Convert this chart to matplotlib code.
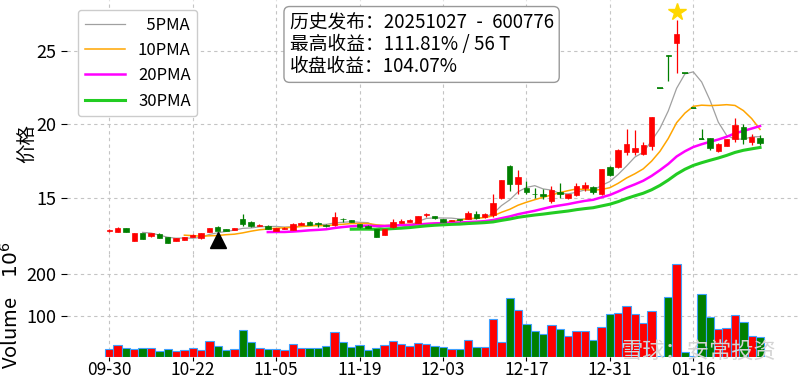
import pandas as pd
import matplotlib
matplotlib.use("Agg")
import matplotlib.pyplot as plt

plt.rcParams['font.family'] = ['Noto Sans CJK SC', 'DejaVu Sans']
plt.rcParams['axes.unicode_minus'] = False

CODE = "600776"
PUB_DATE = "20251027"
PUB_IDX = 13          # 发布日在序列中的位置
MAX_GAIN = "111.81% / 56 T"
CLOSE_GAIN = "104.07%"

HOLIDAYS = ["2025-10-01", "2025-10-02", "2025-10-03", "2025-10-06",
            "2025-10-07", "2025-10-08", "2026-01-01", "2026-01-02"]

opens = [12.75, 12.68, 12.93, 12.09, 12.59, 12.41, 12.57, 12.36, 12.09, 12.14,
         12.36, 12.28, 12.68, 13.04, 12.88, 12.84, 13.56, 13.38, 13.09, 13.11,
         12.77, 12.90, 12.84, 13.16, 13.34, 13.27, 13.16, 13.18, 13.60, 13.50,
         13.20, 13.11, 12.88, 12.48, 13.00, 13.31, 13.36, 13.31, 13.84, 13.77,
         13.57, 13.43, 13.54, 13.57, 13.93, 13.68, 13.84, 15.02, 17.20, 15.98,
         15.69, 15.30, 15.24, 14.81, 15.40, 14.97, 15.17, 15.67, 15.77, 15.24,
         17.10, 17.13, 18.13, 18.13, 17.97, 18.55, 22.45, 24.69, 25.55, 23.49,
         21.14, 19.03, 19.05, 18.21, 18.55, 18.98, 19.80, 18.78, 19.09]
highs = [12.86, 13.00, 12.95, 12.60, 12.62, 12.63, 12.60, 12.38, 12.27, 12.34,
         12.56, 12.61, 12.99, 13.10, 12.90, 12.98, 13.90, 13.45, 13.22, 13.14,
         12.99, 13.00, 13.28, 13.35, 13.43, 13.38, 13.20, 14.05, 13.61, 13.52,
         13.22, 13.13, 12.90, 12.88, 13.56, 13.55, 13.60, 13.80, 13.96, 13.80,
         13.60, 13.53, 13.56, 14.11, 14.11, 13.95, 15.28, 16.22, 17.22, 16.90,
         16.14, 15.66, 15.62, 15.81, 16.00, 15.30, 16.04, 16.10, 15.82, 16.99,
         17.20, 18.30, 19.66, 19.59, 18.81, 20.52, 22.45, 24.69, 27.09, 23.49,
         21.14, 19.66, 19.10, 18.75, 19.00, 20.41, 20.03, 19.35, 19.30]
lows = [12.72, 12.66, 12.66, 12.05, 12.21, 12.36, 12.28, 11.94, 12.05, 12.12,
        12.34, 12.20, 12.66, 12.75, 12.77, 12.80, 13.08, 13.05, 13.07, 12.86,
        12.75, 12.88, 12.82, 13.14, 13.14, 13.05, 13.05, 13.09, 13.34, 13.36,
        12.98, 12.95, 12.33, 12.46, 12.98, 13.29, 13.34, 13.29, 13.70, 13.59,
        13.36, 13.41, 13.45, 13.55, 13.60, 13.66, 13.72, 14.95, 15.50, 15.24,
        15.30, 14.97, 14.90, 14.67, 14.97, 14.90, 15.10, 15.50, 15.30, 15.20,
        16.48, 17.05, 17.93, 17.90, 17.90, 18.25, 22.45, 22.94, 23.50, 23.49,
        21.14, 19.03, 18.27, 18.14, 18.50, 18.82, 18.64, 18.60, 18.60]
closes = [12.82, 12.99, 12.68, 12.59, 12.23, 12.59, 12.30, 11.96, 12.25, 12.32,
          12.50, 12.59, 12.97, 12.79, 12.79, 12.93, 13.20, 13.11, 13.18, 12.88,
          12.97, 12.97, 13.25, 13.32, 13.18, 13.20, 13.09, 13.72, 13.55, 13.38,
          13.00, 12.97, 12.36, 12.86, 13.40, 13.45, 13.52, 13.77, 13.90, 13.61,
          13.38, 13.50, 13.47, 13.98, 13.66, 13.91, 14.64, 16.20, 15.95, 16.40,
          15.38, 15.24, 15.10, 15.54, 15.26, 15.24, 15.81, 15.86, 15.38, 16.97,
          16.56, 18.24, 18.69, 18.42, 18.58, 20.47, 22.45, 24.62, 26.10, 23.49,
          21.14, 19.03, 18.41, 18.64, 18.98, 19.95, 18.98, 19.16, 18.75]
# 成交量，单位 10^6
volumes = [19.0, 27.8, 21.4, 19.0, 21.4, 21.4, 14.9, 20.2, 14.9, 16.5,
           21.4, 16.5, 39.0, 25.4, 16.5, 20.2, 63.9, 35.8, 22.2, 19.0,
           19.0, 15.7, 31.0, 20.7, 20.7, 22.2, 25.4, 59.1, 35.8, 24.6,
           27.8, 16.5, 22.2, 27.8, 39.0, 31.0, 27.0, 33.4, 31.0, 25.4,
           23.0, 19.0, 19.0, 39.8, 23.0, 23.0, 91.2, 35.0, 141.8, 113.7,
           80.0, 61.5, 55.1, 78.4, 67.9, 51.1, 61.5, 61.5, 39.8, 72.0,
           103.3, 105.7, 122.6, 103.3, 81.6, 112.1, 2.0, 145.1, 226.2, 11.7,
           2.5, 151.5, 96.1, 67.9, 69.6, 101.7, 84.8, 50.3, 48.7]

MAV = [5, 10, 20, 30]
MAV_COLORS = ['#a0a0a0', 'orange', '#ff00ff', '#22cc22']
MAV_LW = [0.9, 1.1, 1.8, 2.2]

dates = pd.bdate_range("2025-09-30", "2026-01-28")
dates = dates[~dates.isin(pd.to_datetime(HOLIDAYS))]

df = pd.DataFrame({"open": opens, "high": highs, "low": lows,
                   "close": closes, "volume": volumes}, index=dates)
x = list(range(len(df)))
up = df["close"] > df["open"]
colors = ['#ff0000' if u else '#007f00' for u in up]

fig = plt.figure(figsize=(8, 3.8), dpi=100)
ax = fig.add_axes([0.08375, 0.331, 0.91625, 0.669])
axv = fig.add_axes([0.08375, 0.0616, 0.91625, 0.2694], sharex=ax)

# K线
ax.vlines(x, df["low"], df["high"], colors=colors, linewidth=0.9, zorder=3)
body = (df["close"] - df["open"]).abs()
bottom = df[["open", "close"]].min(axis=1)
ax.bar(x, body, bottom=bottom, width=0.65, color=colors,
       edgecolor=colors, linewidth=0.5, zorder=3)
flat_idx = [i for i in x if body.iloc[i] == 0]
ax.hlines([closes[i] for i in flat_idx], [i - 0.33 for i in flat_idx],
          [i + 0.33 for i in flat_idx], colors=[colors[i] for i in flat_idx],
          linewidth=1.2, zorder=3)

# 均线
for n, c, lw in zip(MAV, MAV_COLORS, MAV_LW):
    ma = df["close"].rolling(n).mean()
    ax.plot(x, ma, color=c, linewidth=lw,
            label=f"{n:>2}PMA".replace(" ", "\u2002"), zorder=2)

# 发布日与最高点标记
peak = int(df["high"].values.argmax())
ax.plot(PUB_IDX, df["low"].iloc[PUB_IDX] * 0.95, marker='^', color='black',
        markersize=11, linestyle='none', zorder=4)
ax.plot(peak, df["high"].iloc[peak] * 1.02, marker='*', color='gold',
        markersize=13, linestyle='none', zorder=4)

# 成交量
axv.bar(x, df["volume"], width=1.0, color=colors, edgecolor='#3fa0ff',
        linewidth=0.8, zorder=3)
axv.set_ylim(df["volume"].min() * 0.3, df["volume"].max() * 1.1)
axv.set_yticks([100, 200])

ax.set_xlim(-5.07, 82.79)
ax.set_ylim(11.18, 28.44)
ax.set_yticks([15, 20, 25])

ticks = x[::10]
axv.set_xticks(ticks)
axv.set_xticklabels([dates[i].strftime("%m-%d") for i in ticks])
ax.tick_params(axis='x', which='both', bottom=False, labelbottom=False)

for a in (ax, axv):
    for s in a.spines.values():
        s.set_visible(False)
    a.grid(True, linestyle=(0, (3, 3)), color='#c4c4c4', linewidth=0.8)
    a.set_axisbelow(True)
    a.tick_params(labelsize=13, length=4, width=0.8)
axv.tick_params(axis='x', labelsize=12.5, length=3, pad=0.5)
ax.tick_params(axis='y', pad=4)
axv.tick_params(axis='y', pad=4)

ax.set_ylabel("价格", fontsize=14)
ax.yaxis.set_label_coords(-0.04, 0.437)
axv.set_ylabel("Volume\u2002\u2002$10^{6}$", fontsize=14.5)
axv.yaxis.set_label_coords(-0.06, 0.5)

ax.legend(loc='upper left', bbox_to_anchor=(0.015, 0.961), borderaxespad=0,
          fontsize=12, handlelength=2.4, frameon=True, fancybox=True,
          edgecolor='#cccccc', framealpha=1)

info = (f"历史发布：{PUB_DATE}\u2002-\u2002{CODE}\n"
        f"最高收益：{MAX_GAIN}\n"
        f"收盘收益：{CLOSE_GAIN}")
fig.text(0.362, 0.968, info, fontsize=13.5, va='top', ha='left', linespacing=1.05,
         bbox=dict(boxstyle='round,pad=0.3', fc='white', ec='#999999'))

fig.text(0.775, 0.075, "雪球：安常投资", fontsize=16, color='#d4d4d4',
         ha='left', va='center', zorder=10)

fig.savefig("out.png", dpi=100)
